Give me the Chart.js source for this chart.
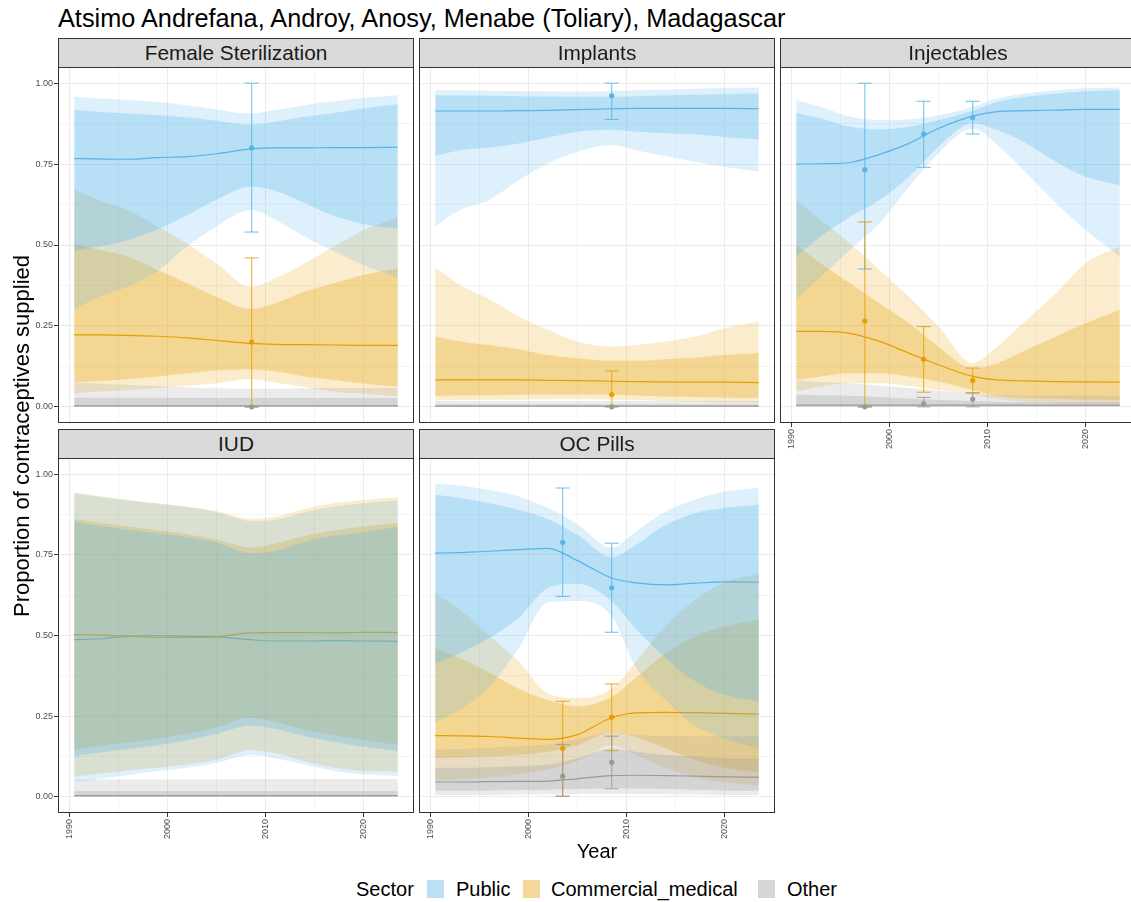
<!DOCTYPE html>
<html>
<head>
<meta charset="utf-8">
<script src="https://cdn.jsdelivr.net/npm/chart.js@4.4.1/dist/chart.umd.min.js"></script>
<style>
html,body{margin:0;padding:0;background:#fff;overflow:hidden;width:1131px;height:902px;font-family:"Liberation Sans",Arial,Helvetica,sans-serif;}
canvas{position:absolute;}
.strip{position:absolute;background:#d9d9d9;border:1px solid #333;box-sizing:border-box;text-align:center;color:#1a1a1a;font-size:20.8px;line-height:28px;white-space:nowrap;overflow:hidden;z-index:5;}
.txt{position:absolute;white-space:nowrap;color:#000;z-index:6;}
.sw{position:absolute;width:17px;height:18px;z-index:6;}
</style>
</head>
<body>
<div class="txt" style="left:58px;top:6px;font-size:25.3px;line-height:25px;">Atsimo Andrefana, Androy, Anosy, Menabe (Toliary), Madagascar</div>
<div class="txt" style="left:22px;top:436px;font-size:22px;line-height:22px;transform:translate(-50%,-50%) rotate(-90deg);">Proportion of contraceptives supplied</div>
<div class="txt" style="left:597px;top:841px;font-size:20px;line-height:20px;transform:translateX(-50%);">Year</div>
<div class="txt" style="left:356px;top:879px;font-size:20px;line-height:20px;">Sector</div>
<div class="sw" style="left:427px;top:880px;background:#bbe0f6;"></div>
<div class="txt" style="left:456px;top:879px;font-size:20px;line-height:20px;">Public</div>
<div class="sw" style="left:523px;top:880px;background:#f5d899;"></div>
<div class="txt" style="left:551px;top:879px;font-size:20px;line-height:20px;">Commercial_medical</div>
<div class="sw" style="left:758px;top:880px;background:#d6d6d6;"></div>
<div class="txt" style="left:787px;top:879px;font-size:20px;line-height:20px;">Other</div>
<script>
// ---------------- DATA ----------------
const years = [1990.5, 1993, 1996, 1999, 2002, 2005, 2008.5, 2011, 2014, 2017, 2020, 2023.5];
const xTickLabels = [1990, 2000, 2010, 2020];
const yTickLabels = [0, 0.25, 0.5, 0.75, 1];

// Female Sterilization
const fsPubMed  = [0.767,0.766,0.765,0.770,0.773,0.782,0.797,0.800,0.800,0.801,0.801,0.802];
const fsPubHi95 = [0.958,0.953,0.948,0.942,0.932,0.919,0.906,0.917,0.932,0.944,0.955,0.963];
const fsPubHi80 = [0.917,0.912,0.906,0.901,0.894,0.884,0.872,0.881,0.896,0.908,0.922,0.935];
const fsPubLo80 = [0.480,0.495,0.515,0.548,0.592,0.640,0.680,0.668,0.630,0.590,0.565,0.550];
const fsPubLo95 = [0.300,0.340,0.372,0.420,0.495,0.557,0.608,0.577,0.526,0.480,0.438,0.397];
const fsComMed  = [0.222,0.222,0.221,0.218,0.213,0.205,0.196,0.193,0.192,0.191,0.190,0.190];
const fsComHi95 = [0.670,0.639,0.608,0.557,0.505,0.443,0.371,0.397,0.443,0.495,0.546,0.585];
const fsComHi80 = [0.505,0.485,0.464,0.423,0.382,0.340,0.302,0.320,0.356,0.382,0.407,0.428];
const fsComLo80 = [0.076,0.080,0.086,0.094,0.104,0.112,0.116,0.109,0.094,0.083,0.072,0.062];
const fsComLo95 = [0.042,0.047,0.052,0.058,0.065,0.073,0.086,0.075,0.061,0.047,0.040,0.032];
const fsOthMed  = [0.003,0.003,0.003,0.003,0.003,0.003,0.003,0.003,0.003,0.003,0.003,0.003];
const fsOthHi95 = [0.075,0.072,0.068,0.064,0.060,0.057,0.056,0.056,0.057,0.058,0.058,0.058];
const fsOthHi80 = [0.028,0.028,0.028,0.028,0.027,0.027,0.027,0.027,0.027,0.027,0.027,0.027];
const fsOthLo80 = [0.001,0.001,0.001,0.001,0.001,0.001,0.001,0.001,0.001,0.001,0.001,0.001];
const fsOthLo95 = [0,0,0,0,0,0,0,0,0,0,0,0];
const fsObsYear = [2008.6];
const fsObsPub = [0.80], fsObsPubLo = [0.54], fsObsPubHi = [1.00];
const fsObsCom = [0.20], fsObsComLo = [0.00], fsObsComHi = [0.46];
const fsObsOth = [0.00], fsObsOthLo = [0.00], fsObsOthHi = [0.00];

// Implants
const imPubMed  = [0.914,0.914,0.914,0.915,0.916,0.918,0.921,0.922,0.922,0.922,0.922,0.921];
const imPubHi95 = [0.978,0.978,0.977,0.976,0.975,0.974,0.975,0.978,0.980,0.983,0.985,0.987];
const imPubHi80 = [0.963,0.962,0.961,0.960,0.959,0.958,0.958,0.960,0.962,0.964,0.966,0.968];
const imPubLo80 = [0.775,0.793,0.801,0.814,0.832,0.850,0.855,0.850,0.845,0.842,0.834,0.827];
const imPubLo95 = [0.557,0.608,0.639,0.700,0.752,0.788,0.809,0.793,0.775,0.757,0.742,0.726];
const imComMed  = [0.083,0.083,0.083,0.083,0.082,0.081,0.079,0.078,0.077,0.076,0.076,0.075];
const imComHi95 = [0.431,0.377,0.333,0.279,0.238,0.202,0.186,0.191,0.202,0.217,0.243,0.263];
const imComHi80 = [0.217,0.202,0.191,0.178,0.160,0.150,0.142,0.142,0.147,0.152,0.160,0.166];
const imComLo80 = [0.034,0.035,0.036,0.037,0.038,0.038,0.037,0.035,0.032,0.030,0.028,0.027];
const imComLo95 = [0.020,0.021,0.022,0.022,0.023,0.023,0.022,0.020,0.018,0.016,0.014,0.013];
const imOthMed  = [0.002,0.002,0.002,0.002,0.002,0.002,0.002,0.002,0.002,0.002,0.002,0.002];
const imOthHi95 = [0.018,0.018,0.018,0.018,0.018,0.018,0.018,0.018,0.018,0.018,0.018,0.018];
const imOthHi80 = [0.008,0.008,0.008,0.008,0.008,0.008,0.008,0.008,0.008,0.008,0.008,0.008];
const imOthLo80 = [0.001,0.001,0.001,0.001,0.001,0.001,0.001,0.001,0.001,0.001,0.001,0.001];
const imOthLo95 = [0,0,0,0,0,0,0,0,0,0,0,0];
const imObsYear = [2008.5];
const imObsPub = [0.961], imObsPubLo = [0.888], imObsPubHi = [1.00];
const imObsCom = [0.038], imObsComLo = [0.00], imObsComHi = [0.111];
const imObsOth = [0.00], imObsOthLo = [0.00], imObsOthHi = [0.002];

// Injectables
const injPubMed  = [0.750,0.751,0.755,0.780,0.814,0.860,0.898,0.912,0.915,0.917,0.919,0.919];
const injPubHi95 = [0.948,0.927,0.896,0.886,0.888,0.901,0.927,0.953,0.968,0.978,0.984,0.987];
const injPubHi80 = [0.908,0.891,0.865,0.857,0.865,0.886,0.915,0.942,0.958,0.968,0.975,0.978];
const injPubLo80 = [0.464,0.526,0.587,0.639,0.711,0.803,0.876,0.855,0.814,0.757,0.711,0.685];
const injPubLo95 = [0.332,0.402,0.485,0.567,0.680,0.783,0.860,0.809,0.721,0.629,0.546,0.464];
const injComMed  = [0.233,0.233,0.227,0.202,0.166,0.130,0.094,0.083,0.080,0.078,0.077,0.076];
const injComHi95 = [0.639,0.577,0.505,0.423,0.340,0.248,0.135,0.186,0.269,0.351,0.443,0.495];
const injComHi80 = [0.500,0.443,0.382,0.320,0.258,0.186,0.119,0.135,0.176,0.217,0.258,0.300];
const injComLo80 = [0.083,0.094,0.104,0.104,0.094,0.078,0.052,0.034,0.027,0.024,0.022,0.020];
const injComLo95 = [0.047,0.063,0.073,0.073,0.065,0.052,0.037,0.024,0.016,0.013,0.011,0.009];
const injOthMed  = [0.005,0.005,0.005,0.005,0.005,0.005,0.005,0.005,0.005,0.005,0.005,0.005];
const injOthHi95 = [0.081,0.077,0.072,0.066,0.058,0.050,0.040,0.036,0.035,0.035,0.035,0.035];
const injOthHi80 = [0.037,0.036,0.034,0.030,0.026,0.022,0.018,0.016,0.015,0.015,0.015,0.015];
const injOthLo80 = [0.001,0.001,0.001,0.001,0.001,0.001,0.001,0.001,0.001,0.001,0.001,0.001];
const injOthLo95 = [0,0,0,0,0,0,0,0,0,0,0,0];
const injObsYear = [1997.5, 2003.5, 2008.5];
const injObsPub = [0.733,0.843,0.894], injObsPubLo = [0.426,0.740,0.843], injObsPubHi = [1.000,0.944,0.944];
const injObsCom = [0.265,0.147,0.081], injObsComLo = [0.000,0.045,0.043], injObsComHi = [0.571,0.248,0.120];
const injObsOth = [0.000,0.009,0.024], injObsOthLo = [0.000,0.000,0.000], injObsOthHi = [0.000,0.029,0.043];

// IUD
const iudPubMed  = [0.487,0.490,0.497,0.500,0.498,0.496,0.487,0.483,0.483,0.484,0.483,0.482];
const iudPubHi95 = [0.941,0.930,0.918,0.908,0.898,0.882,0.855,0.858,0.882,0.900,0.910,0.918];
const iudPubHi80 = [0.853,0.840,0.828,0.817,0.805,0.788,0.755,0.762,0.790,0.808,0.820,0.836];
const iudPubLo80 = [0.126,0.137,0.148,0.160,0.175,0.195,0.220,0.210,0.188,0.170,0.155,0.141];
const iudPubLo95 = [0.045,0.055,0.068,0.080,0.090,0.105,0.130,0.120,0.100,0.080,0.070,0.065];
const iudComMed  = [0.503,0.501,0.498,0.494,0.494,0.496,0.508,0.509,0.509,0.508,0.510,0.509];
const iudComHi95 = [0.943,0.932,0.920,0.910,0.900,0.886,0.862,0.868,0.893,0.910,0.920,0.928];
const iudComHi80 = [0.862,0.850,0.838,0.826,0.814,0.798,0.772,0.785,0.808,0.825,0.838,0.848];
const iudComLo80 = [0.147,0.157,0.168,0.180,0.195,0.215,0.245,0.232,0.208,0.190,0.175,0.162];
const iudComLo95 = [0.062,0.072,0.082,0.090,0.100,0.115,0.145,0.135,0.110,0.090,0.080,0.078];
const iudOthMed  = [0.004,0.004,0.004,0.004,0.004,0.004,0.004,0.004,0.004,0.004,0.004,0.004];
const iudOthHi95 = [0.054,0.054,0.054,0.054,0.054,0.054,0.055,0.055,0.055,0.055,0.055,0.055];
const iudOthHi80 = [0.018,0.018,0.018,0.018,0.018,0.018,0.018,0.018,0.018,0.018,0.018,0.018];
const iudOthLo80 = [0.001,0.001,0.001,0.001,0.001,0.001,0.001,0.001,0.001,0.001,0.001,0.001];
const iudOthLo95 = [0,0,0,0,0,0,0,0,0,0,0,0];
const iudObsYear = [];

// OC Pills
const ocPubMed  = [0.755,0.757,0.761,0.766,0.770,0.732,0.678,0.663,0.657,0.662,0.666,0.665];
const ocPubHi95 = [0.970,0.965,0.951,0.931,0.895,0.845,0.772,0.823,0.884,0.921,0.946,0.957];
const ocPubHi80 = [0.936,0.926,0.910,0.890,0.860,0.812,0.742,0.781,0.843,0.879,0.895,0.905];
const ocPubLo80 = [0.412,0.445,0.492,0.554,0.647,0.660,0.606,0.520,0.430,0.358,0.317,0.296];
const ocPubLo95 = [0.230,0.270,0.340,0.460,0.603,0.607,0.560,0.400,0.300,0.220,0.180,0.150];
const ocComMed  = [0.190,0.189,0.187,0.182,0.178,0.193,0.245,0.260,0.262,0.261,0.259,0.256];
const ocComHi95 = [0.632,0.580,0.500,0.420,0.320,0.306,0.335,0.420,0.530,0.610,0.665,0.693];
const ocComHi80 = [0.461,0.430,0.385,0.335,0.300,0.280,0.310,0.370,0.445,0.497,0.528,0.549];
const ocComLo80 = [0.120,0.122,0.125,0.130,0.140,0.160,0.200,0.185,0.150,0.115,0.090,0.075];
const ocComLo95 = [0.050,0.055,0.060,0.070,0.085,0.110,0.160,0.130,0.090,0.060,0.045,0.035];
const ocOthMed  = [0.046,0.046,0.047,0.048,0.049,0.056,0.066,0.067,0.066,0.064,0.062,0.061];
const ocOthHi95 = [0.147,0.148,0.152,0.157,0.163,0.178,0.200,0.192,0.189,0.188,0.188,0.188];
const ocOthHi80 = [0.090,0.090,0.092,0.095,0.100,0.120,0.150,0.140,0.130,0.125,0.120,0.120];
const ocOthLo80 = [0.020,0.020,0.020,0.021,0.022,0.024,0.027,0.026,0.024,0.022,0.020,0.019];
const ocOthLo95 = [0.006,0.006,0.006,0.007,0.008,0.009,0.010,0.009,0.008,0.007,0.006,0.006];
const ocObsYear = [2003.5, 2008.5];
const ocObsPub = [0.789,0.648], ocObsPubLo = [0.621,0.510], ocObsPubHi = [0.957,0.786];
const ocObsCom = [0.150,0.247], ocObsComLo = [0.002,0.143], ocObsComHi = [0.296,0.350];
const ocObsOth = [0.064,0.107], ocObsOthLo = [0.002,0.025], ocObsOthHi = [0.162,0.188];

// ---------------- RENDERING ----------------
Chart.defaults.font.family = '"Liberation Sans", Arial, Helvetica, sans-serif';
const COL = {pub:[86,180,233], com:[230,159,0], oth:[153,153,153]};
const rgba = (c,a) => `rgba(${c[0]},${c[1]},${c[2]},${a})`;
const isMajorY = v => yTickLabels.some(t => Math.abs(t - v) < 1e-6);
const isMajorX = v => xTickLabels.some(t => Math.abs(t - v) < 1e-6);
const xy = arr => years.map((x,i) => ({x, y: arr[i]}));

const panels = [
  {title:'Female Sterilization', left:58, top:67, h:356, yt:true, xt:false,
   sec:{pub:[fsPubMed,fsPubLo80,fsPubHi80,fsPubLo95,fsPubHi95], com:[fsComMed,fsComLo80,fsComHi80,fsComLo95,fsComHi95], oth:[fsOthMed,fsOthLo80,fsOthHi80,fsOthLo95,fsOthHi95]},
   obsX:fsObsYear, obs:{pub:[fsObsPub,fsObsPubLo,fsObsPubHi], com:[fsObsCom,fsObsComLo,fsObsComHi], oth:[fsObsOth,fsObsOthLo,fsObsOthHi]}},
  {title:'Implants', left:419, top:67, h:356, yt:false, xt:false,
   sec:{pub:[imPubMed,imPubLo80,imPubHi80,imPubLo95,imPubHi95], com:[imComMed,imComLo80,imComHi80,imComLo95,imComHi95], oth:[imOthMed,imOthLo80,imOthHi80,imOthLo95,imOthHi95]},
   obsX:imObsYear, obs:{pub:[imObsPub,imObsPubLo,imObsPubHi], com:[imObsCom,imObsComLo,imObsComHi], oth:[imObsOth,imObsOthLo,imObsOthHi]}},
  {title:'Injectables', left:780, top:67, h:356, yt:false, xt:true,
   sec:{pub:[injPubMed,injPubLo80,injPubHi80,injPubLo95,injPubHi95], com:[injComMed,injComLo80,injComHi80,injComLo95,injComHi95], oth:[injOthMed,injOthLo80,injOthHi80,injOthLo95,injOthHi95]},
   obsX:injObsYear, obs:{pub:[injObsPub,injObsPubLo,injObsPubHi], com:[injObsCom,injObsComLo,injObsComHi], oth:[injObsOth,injObsOthLo,injObsOthHi]}},
  {title:'IUD', left:58, top:458, h:355, yt:true, xt:true,
   sec:{pub:[iudPubMed,iudPubLo80,iudPubHi80,iudPubLo95,iudPubHi95], com:[iudComMed,iudComLo80,iudComHi80,iudComLo95,iudComHi95], oth:[iudOthMed,iudOthLo80,iudOthHi80,iudOthLo95,iudOthHi95]},
   obsX:iudObsYear, obs:null},
  {title:'OC Pills', left:419, top:458, h:355, yt:false, xt:true,
   sec:{pub:[ocPubMed,ocPubLo80,ocPubHi80,ocPubLo95,ocPubHi95], com:[ocComMed,ocComLo80,ocComHi80,ocComLo95,ocComHi95], oth:[ocOthMed,ocOthLo80,ocOthHi80,ocOthLo95,ocOthHi95]},
   obsX:ocObsYear, obs:{pub:[ocObsPub,ocObsPubLo,ocObsPubHi], com:[ocObsCom,ocObsComLo,ocObsComHi], oth:[ocObsOth,ocObsOthLo,ocObsOthHi]}}
];

const panelFrame = {
  id:'panelFrame',
  beforeDraw(chart){
    const {ctx, chartArea:a} = chart;
    ctx.save(); ctx.fillStyle = '#ffffff';
    ctx.fillRect(a.left, a.top, a.right - a.left, a.bottom - a.top);
    ctx.restore();
  },
  afterDraw(chart){
    const {ctx, chartArea:a} = chart;
    ctx.save(); ctx.strokeStyle = '#333333'; ctx.lineWidth = 1;
    ctx.strokeRect(a.left + 0.5, a.top + 0.5, a.right - a.left - 1, a.bottom - a.top - 1);
    ctx.restore();
  }
};

const SECS = ['pub','com','oth'];          // line / legend order
const RIBBON_ORDER = ['com','oth','pub'];  // ribbons drawn bottom -> top

panels.forEach(p => {
  const W = 356 + 70, H = p.h + 60;
  const cv = document.createElement('canvas');
  cv.width = W; cv.height = H;
  cv.style.left = (p.left - 60) + 'px';
  cv.style.top = (p.top - 10) + 'px';
  cv.style.width = W + 'px'; cv.style.height = H + 'px';
  document.body.appendChild(cv);

  const strip = document.createElement('div');
  strip.className = 'strip';
  strip.style.left = p.left + 'px';
  strip.style.top = (p.top - 29) + 'px';
  strip.style.width = '356px';
  strip.style.height = '30px';
  strip.textContent = p.title;
  document.body.appendChild(strip);

  const ds = [];
  const push = d => { d.order = 1000 - ds.length; ds.push(d); };
  const smooth = {cubicInterpolationMode:'monotone', pointRadius:0, pointHoverRadius:0};
  // median lines (under the ribbons)
  SECS.forEach(s => {
    push(Object.assign({data: xy(p.sec[s][0]), borderColor: rgba(COL[s],1), borderWidth:1.2, fill:false}, smooth));
  });
  // ribbons: 95% then 80%
  RIBBON_ORDER.forEach(s => {
    const [, lo80, hi80, lo95, hi95] = p.sec[s];
    push(Object.assign({data: xy(hi95), borderWidth:0, borderColor:'rgba(0,0,0,0)', fill:'+1', backgroundColor: rgba(COL[s],0.2)}, smooth));
    push(Object.assign({data: xy(lo95), borderWidth:0, borderColor:'rgba(0,0,0,0)', fill:false}, smooth));
    push(Object.assign({data: xy(hi80), borderWidth:0, borderColor:'rgba(0,0,0,0)', fill:'+1', backgroundColor: rgba(COL[s],0.28)}, smooth));
    push(Object.assign({data: xy(lo80), borderWidth:0, borderColor:'rgba(0,0,0,0)', fill:false}, smooth));
  });
  // error bars and observed points
  if (p.obs) {
    SECS.forEach(s => {
      const [val, lo, hi] = p.obs[s];
      p.obsX.forEach((x, j) => {
        push({data:[{x, y:lo[j]}, {x, y:hi[j]}], borderColor: rgba(COL[s],0.8), borderWidth:1.1, fill:false,
              pointStyle:'line', pointRadius:7, pointHoverRadius:7, pointBorderColor: rgba(COL[s],0.8), pointBorderWidth:1.1});
      });
    });
    SECS.forEach(s => {
      const [val] = p.obs[s];
      push({data: p.obsX.map((x,j) => ({x, y: val[j]})), showLine:false, fill:false,
            pointRadius:2.6, pointHoverRadius:2.6, pointBackgroundColor: rgba(COL[s],1), pointBorderWidth:0, borderColor: rgba(COL[s],1)});
    });
  }

  new Chart(cv, {
    type:'line',
    data:{datasets: ds},
    options:{
      responsive:false, animation:false, events:[], devicePixelRatio:1,
      layout:{padding:{top:10, right:10, left:0, bottom:0}},
      plugins:{legend:{display:false}, tooltip:{enabled:false}},
      scales:{
        x:{type:'linear', min:1988.85, max:2025.15,
           afterBuildTicks: sc => { sc.ticks = [1990,1995,2000,2005,2010,2015,2020].map(v => ({value:v})); },
           afterFit: sc => { sc.height = 50; },
           border:{display:false},
           grid:{color: c => isMajorX(c.tick.value) ? '#ebebeb' : '#f3f3f3', lineWidth: 1,
                 drawTicks: p.xt, tickLength:4, tickWidth:1,
                 tickColor: c => isMajorX(c.tick.value) ? '#333333' : 'rgba(0,0,0,0)'},
           ticks:{display: p.xt, autoSkip:false, minRotation:90, maxRotation:90, padding:2,
                  color:'#4d4d4d', font:{size:9},
                  callback: v => isMajorX(v) ? String(v) : ''}},
        y:{type:'linear', min:-0.05, max:1.05,
           afterBuildTicks: sc => { sc.ticks = [0,0.125,0.25,0.375,0.5,0.625,0.75,0.875,1].map(v => ({value:v})); },
           afterFit: sc => { sc.width = 60; },
           border:{display:false},
           grid:{color: c => isMajorY(c.tick.value) ? '#ebebeb' : '#f3f3f3', lineWidth: 1,
                 drawTicks: p.yt, tickLength:4, tickWidth:1,
                 tickColor: c => isMajorY(c.tick.value) ? '#333333' : 'rgba(0,0,0,0)'},
           ticks:{display: p.yt, autoSkip:false, padding:1, color:'#4d4d4d', font:{size:9},
                  callback: v => isMajorY(v) ? v.toFixed(2) : ''}}
      }
    },
    plugins:[panelFrame]
  });
});
</script>
</body>
</html>
